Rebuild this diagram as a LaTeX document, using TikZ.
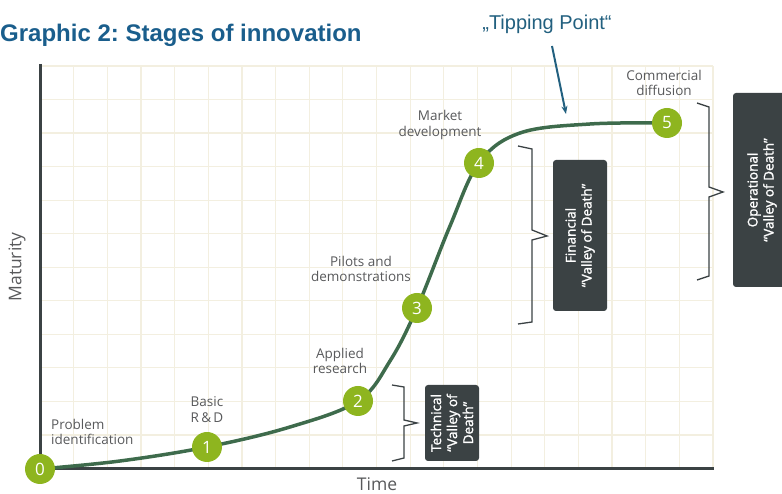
\documentclass[tikz,border=0pt]{standalone}
\usepackage{fontspec}
\setmainfont{Open Sans}
\newfontfamily\arialfont{Liberation Sans}
\newfontfamily\boxfont[FakeBold=1.4]{Open Sans}
\usetikzlibrary{positioning,arrows.meta}
\frenchspacing

\definecolor{gridbeige}{HTML}{F3EFE0}
\definecolor{axisgray}{HTML}{3B4244}
\definecolor{curvegreen}{HTML}{3E6B4C}
\definecolor{stagegreen}{HTML}{8EB51F}
\definecolor{labelgray}{HTML}{58595B}
\definecolor{titleblue}{HTML}{1A5E8C}
\definecolor{tipblue}{HTML}{22607F}

\tikzset{
  gridline/.style={gridbeige, line width=1.2pt},
  axisline/.style={axisgray, line width=3pt},
  curve/.style={curvegreen, line width=3.5pt, line cap=round},
  stage/.style={circle, fill=stagegreen, text=white, minimum size=30pt, inner sep=0pt,
    font=\fontsize{17}{17}\selectfont},
  stagelbl/.style={text=labelgray, align=center, inner sep=0pt,
    font=\fontsize{13.5}{15.5}\selectfont},
  axislbl/.style={text=labelgray, inner sep=0pt, font=\fontsize{17.5}{18}\selectfont},
  vodbox/.style={fill=axisgray, rounded corners=3pt, text=white, rotate=90, align=center,
    inner sep=0pt, minimum height=54pt, font=\boxfont\fontsize{13.5}{16}\selectfont},
  brace/.style={axisgray, line width=1.3pt},
}

\begin{document}
\begin{tikzpicture}[x=1pt,y=1pt]
\useasboundingbox (0,0) rectangle (782,494);

\foreach \i in {1,...,20}
  \draw[gridline] ({40+33.65*\i},25.5) -- ({40+33.65*\i},428);
\foreach \j in {1,...,12}
  \draw[gridline] (40,{25.5+33.54*\j}) -- (713,{25.5+33.54*\j});

\draw[axisline] (40,430) -- (40,25.5) -- (714,25.5);

\coordinate (s0) at (40,25);
\coordinate (s1) at (207,47);
\coordinate (s2) at (358,93);
\coordinate (s3) at (417,186);
\coordinate (s4) at (479,331);
\coordinate (s5) at (667,371);

\draw[curve] plot[smooth, tension=0.6] coordinates {(s0) (120,33) (s1) (290,67) (s2)
  (390,133) (s3) (450,268) (s4) (520,361) (590,370) (s5)};

\node[stage] (n0) at (s0) {0};
\node[stage] (n1) at (s1) {1};
\node[stage] (n2) at (s2) {2};
\node[stage] (n3) at (s3) {3};
\node[stage] (n4) at (s4) {4};
\node[stage] (n5) at (s5) {5};

\node[stagelbl, align=left, anchor=west] (l0) at (51,62) {Problem\\identification};
\node[stagelbl, above=9pt of n1] (l1) {Basic\\R\,\&\,D};
\node[stagelbl] (l2) at (340,133) {Applied\\research};
\node[stagelbl] (l3) at (361,225) {Pilots and\\demonstrations};
\node[stagelbl] (l4) at (440,369) {Market\\development};
\node[stagelbl] (l5) at (664,411) {Commercial\\diffusion};

\draw[brace] (392,109) -- (404,107) -- (404,74) -- (417,71) -- (404,68) -- (404,36) -- (392,33);
\draw[brace] (518,348) -- (532,345) -- (532,264) -- (547,258) -- (532,254) -- (532,172) -- (518,170);
\draw[brace] (697,391) -- (709,387) -- (709,307) -- (723,302) -- (709,297) -- (709,218) -- (697,214);

\node[vodbox, minimum width=76pt] (tech) at (452,71) {Technical\\“Valley of\\Death”};
\node[vodbox, minimum width=151pt] (fin) at (580,258.5) {Financial\\“Valley of Death”};
\node[vodbox, minimum width=194pt, minimum height=58pt] (oper) at (762,304)
  {Operational\\“Valley of Death”};

\node[text=tipblue, inner sep=0pt, font=\arialfont\fontsize{20}{20}\selectfont] (tip)
  at (547,470) {„Tipping Point“};
\coordinate (tipfrom) at (552,448);
\coordinate (tipto) at (566,380);
\draw[tipblue, line width=2pt, -{Stealth[length=8pt,width=6pt]}] (tipfrom) -- (tipto);

\node[anchor=base west, inner sep=0pt, text=titleblue,
  font=\arialfont\bfseries\fontsize{24}{24}\selectfont] (title) at (0,452)
  {Graphic 2: Stages of innovation};

\node[axislbl, rotate=90] (maturity) at (17,227) {Maturity};
\node[axislbl, anchor=base] (time) at (377,3) {Time};
\end{tikzpicture}
\end{document}
